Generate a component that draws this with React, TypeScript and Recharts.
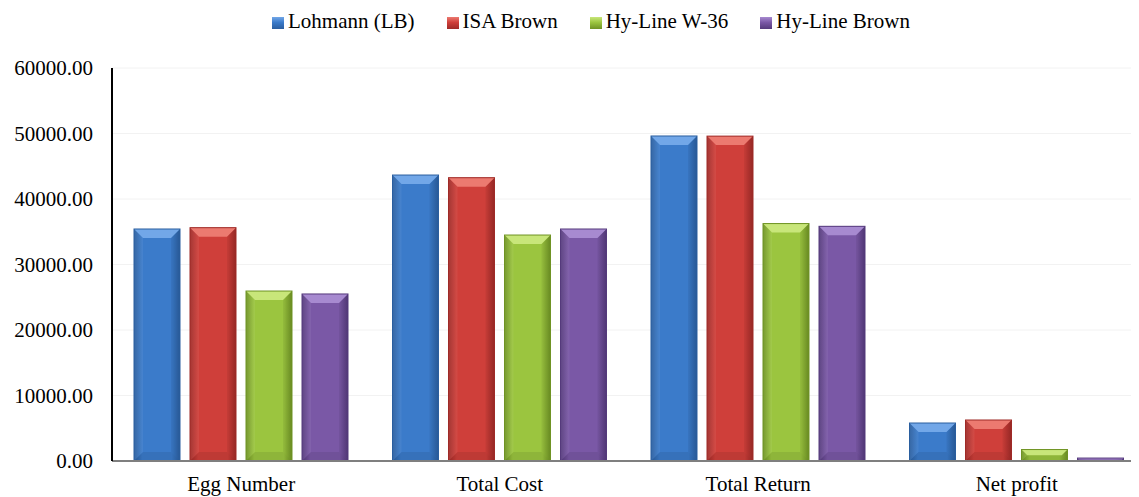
import React from "react";
import { BarChart, Bar, XAxis, YAxis, CartesianGrid, Legend } from "recharts";

const categories = ["Egg Number", "Total Cost", "Total Return", "Net profit"];
const lohmann = [35420, 43660, 49620, 5800];
const isaBrown = [35620, 43250, 49600, 6260];
const hyLineW36 = [25950, 34500, 36250, 1750];
const hyLineBrown = [25500, 35420, 35830, 450];
const yTicks = [0, 10000, 20000, 30000, 40000, 50000, 60000];

const seriesNames = ["Lohmann (LB)", "ISA Brown", "Hy-Line W-36", "Hy-Line Brown"];
const seriesKeys = ["lohmann", "isa", "w36", "hlBrown"];

const data = categories.map((name, i) => ({
  name,
  lohmann: lohmann[i],
  isa: isaBrown[i],
  w36: hyLineW36[i],
  hlBrown: hyLineBrown[i],
}));

const FONT = '"Liberation Serif", "Times New Roman", serif';

// base / highlight / dark edge for each series
const palettes = [
  { base: "#3b7bca", light: "#72a7e8", dark: "#2a5e9f" },
  { base: "#cf3f3a", light: "#ec7a70", dark: "#9f2a27" },
  { base: "#9bc53f", light: "#c8e67a", dark: "#6f9324" },
  { base: "#7a58a6", light: "#a78ad0", dark: "#553a7c" },
];

function makeShape(idx: number) {
  const p = palettes[idx];
  return (props: any) => {
    const { x, y, width, height } = props;
    if (!height || height <= 0) return <g />;
    const b = Math.min(9, height / 2, width / 2);
    return (
      <g>
        <rect x={x} y={y} width={width} height={height} fill={`url(#grad${idx})`} />
        <polygon
          points={`${x},${y} ${x + width},${y} ${x + width - b},${y + b} ${x + b},${y + b}`}
          fill={p.light}
        />
        <polygon
          points={`${x},${y} ${x + b},${y + b} ${x + b},${y + height - b} ${x},${y + height}`}
          fill="#ffffff"
          fillOpacity={0.06}
        />
        <polygon
          points={`${x + width},${y} ${x + width - b},${y + b} ${x + width - b},${y + height - b} ${x + width},${y + height}`}
          fill="#000000"
          fillOpacity={0.06}
        />
        <polygon
          points={`${x},${y + height} ${x + b},${y + height - b} ${x + width - b},${y + height - b} ${x + width},${y + height}`}
          fill="#000000"
          fillOpacity={0.08}
        />
        <rect x={x} y={y} width={width} height={height} fill="none" stroke={p.dark} strokeWidth={1} />
      </g>
    );
  };
}

const XTick = (props: any) => {
  const { x, y, payload } = props;
  return (
    <text x={x} y={y} dy={30} textAnchor="middle" fontSize={21} fontFamily={FONT} fill="#000">
      {payload.value}
    </text>
  );
};

const renderLegend = () => (
  <div style={{ display: "flex", fontFamily: FONT, fontSize: 21, lineHeight: "24px", color: "#000" }}>
    {seriesNames.map((n, i) => (
      <div key={n} style={{ display: "flex", alignItems: "center", marginRight: 32 }}>
        <span
          style={{
            display: "inline-block",
            width: 12,
            height: 12,
            marginTop: 3,
            marginRight: 4,
            background: `linear-gradient(180deg, ${palettes[i].light} 0%, ${palettes[i].base} 45%, ${palettes[i].dark} 100%)`,
          }}
        />
        <span>{n}</span>
      </div>
    ))}
  </div>
);

export default function App() {
  return (
    <div style={{ width: 1131, height: 489, overflow: "hidden", position: "relative" }}>
      <BarChart
        width={1138}
        height={489}
        data={data}
        margin={{ top: 60, right: 0, left: 0, bottom: 0 }}
        barCategoryGap={22}
        barGap={10}
      >
        <defs>
          {palettes.map((p, i) => (
            <linearGradient key={i} id={`grad${i}`} x1="0" y1="0" x2="1" y2="0">
              <stop offset="0%" stopColor={p.dark} />
              <stop offset="18%" stopColor={p.base} />
              <stop offset="82%" stopColor={p.base} />
              <stop offset="100%" stopColor={p.dark} />
            </linearGradient>
          ))}
        </defs>
        <CartesianGrid vertical={false} stroke="#f2f2f2" />
        <XAxis
          dataKey="name"
          height={36}
          axisLine={{ stroke: "#7f7f7f", strokeWidth: 2 }}
          tickLine={false}
          tickSize={0}
          tickMargin={0}
          tick={<XTick />}
          interval={0}
        />
        <YAxis
          width={104}
          domain={[0, 60000]}
          ticks={yTicks}
          tickFormatter={(v: number) => v.toFixed(2)}
          axisLine={{ stroke: "#000", strokeWidth: 2 }}
          tickLine={false}
          tickSize={0}
          tickMargin={19}
          tick={{ fontSize: 21, fontFamily: FONT, fill: "#000" }}
        />
        <Legend
          layout="horizontal"
          verticalAlign="middle"
          align="center"
          content={renderLegend}
          wrapperStyle={{ top: 1, left: 264, width: "auto" }}
        />
        {seriesKeys.map((k, i) => (
          <Bar
            key={k}
            dataKey={k}
            name={seriesNames[i]}
            fill={palettes[i].base}
            shape={makeShape(i)}
            isAnimationActive={false}
          />
        ))}
      </BarChart>
    </div>
  );
}
